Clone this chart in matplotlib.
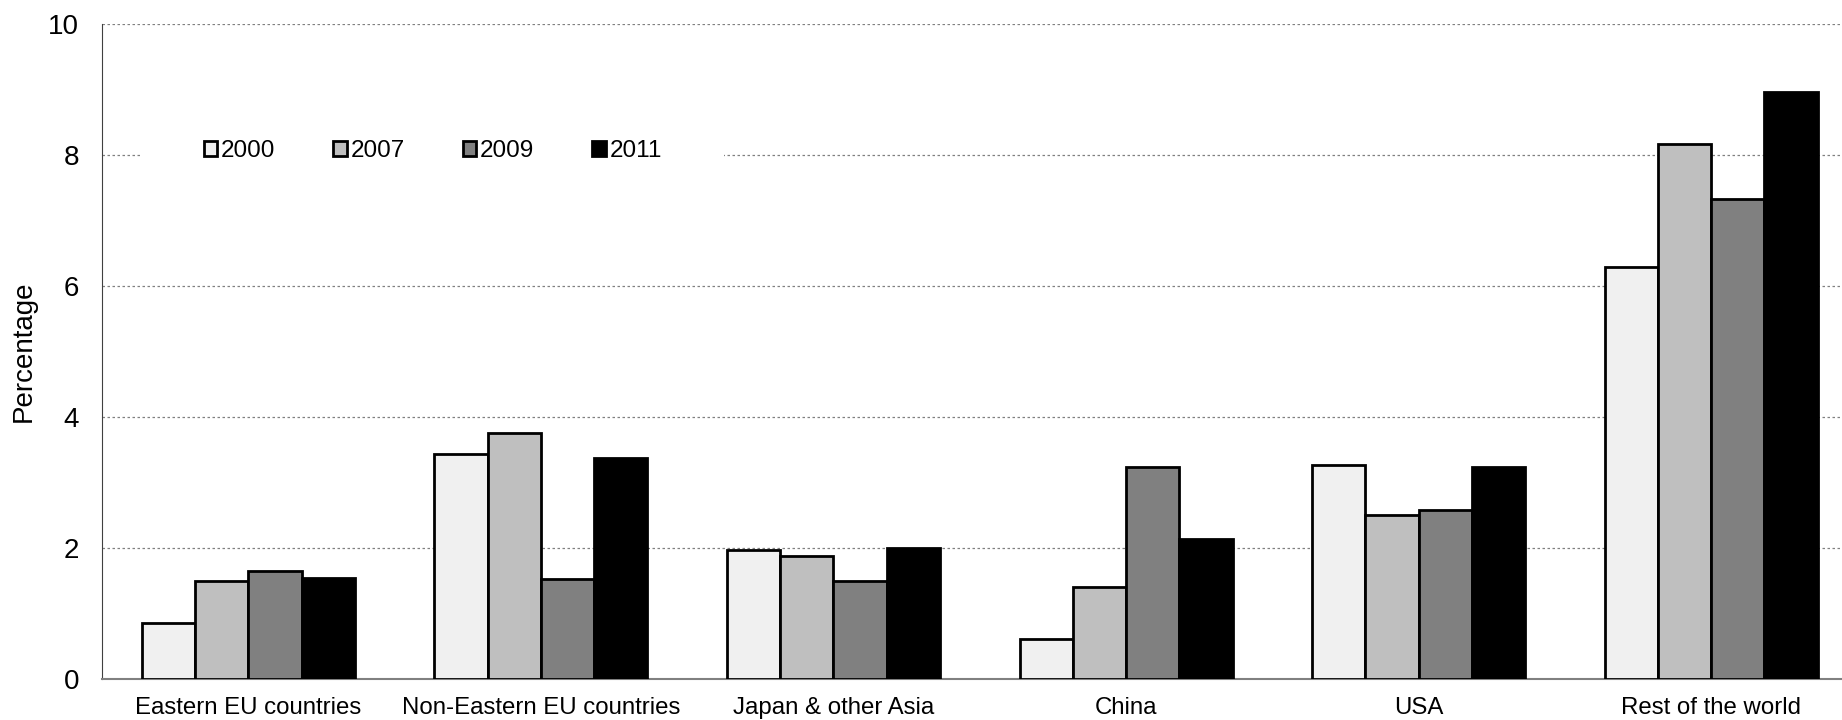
import matplotlib
matplotlib.use("Agg")
import matplotlib.pyplot as plt
import matplotlib.patches as mpatches
import numpy as np

plt.rcParams["font.family"] = ["Liberation Sans", "DejaVu Sans"]

# 数据
regions = ["Eastern EU countries", "Non-Eastern EU countries", "Japan & other Asia",
           "China", "USA", "Rest of the world"]
years = ["2000", "2007", "2009", "2011"]
v2000 = [0.86, 3.44, 1.97, 0.61, 3.26, 6.29]
v2007 = [1.49, 3.75, 1.88, 1.40, 2.51, 8.17]
v2009 = [1.65, 1.52, 1.50, 3.23, 2.58, 7.33]
v2011 = [1.54, 3.37, 2.00, 2.13, 3.23, 8.96]
colors = ["#f0f0f0", "#bfbfbf", "#808080", "#000000"]

fig = plt.figure(figsize=(18.42, 7.2), dpi=100)
ax = fig.add_axes([0.0554, 0.057, 0.953, 0.910])

x = np.arange(len(regions))
w = 0.182
series = [v2000, v2007, v2009, v2011]
for i, (vals, col) in enumerate(zip(series, colors)):
    ax.bar(x + (i - 1.5) * w, vals, width=w, color=col,
           edgecolor="black", linewidth=2.0, zorder=3)

ax.set_xlim(-0.5, len(regions) - 0.5)
ax.set_ylim(0, 10)
ax.set_yticks([0, 2, 4, 6, 8, 10])
ax.set_xticks(x)
ax.set_xticklabels(regions, fontsize=17.3)
ax.tick_params(axis="y", labelsize=20, length=0, pad=16.5)
ax.tick_params(axis="x", length=0, pad=13)
ax.yaxis.grid(True, linestyle=(0, (2, 2)), color="#808080", lw=0.9, zorder=0)
ax.set_axisbelow(True)

for s in ["top", "right"]:
    ax.spines[s].set_visible(False)
ax.spines["left"].set_color("#404040")
ax.spines["bottom"].set_color("#808080")
ax.spines["bottom"].set_linewidth(1.5)

ax.set_ylabel("Percentage", fontsize=20)
ax.yaxis.set_label_coords(-0.037, 0.5)

# 图例（白底遮住网格线）
handles = [mpatches.Patch(facecolor=c, edgecolor="black", linewidth=2.0, label=y)
           for c, y in zip(colors, years)]
leg = ax.legend(handles=handles, ncol=4, loc="center left",
                bbox_to_anchor=(0.0225, 0.806), fontsize=17.5,
                handlelength=0.55, handleheight=0.55, handletextpad=0.15,
                columnspacing=2.4, frameon=True, fancybox=False,
                borderpad=2.55, borderaxespad=0)
leg.get_frame().set_facecolor("white")
leg.get_frame().set_edgecolor("none")
leg.get_frame().set_alpha(1)
leg.set_zorder(5)

plt.savefig("out.png", dpi=100)
plt.close()
